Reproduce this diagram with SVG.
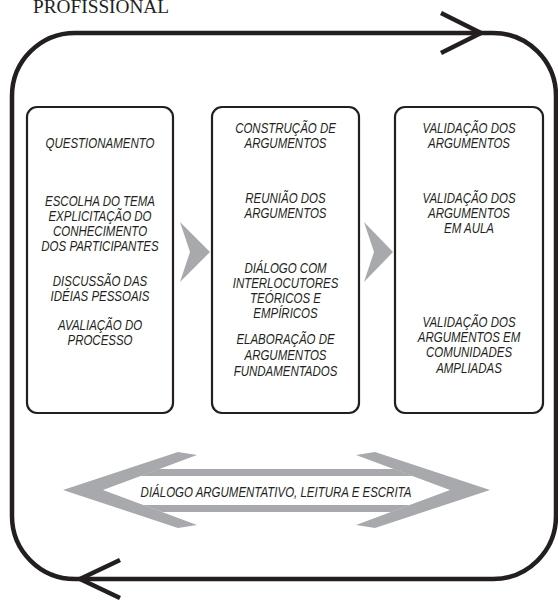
<svg xmlns="http://www.w3.org/2000/svg" width="558" height="600" viewBox="0 0 558 600">
<style>
.t{font-family:"Liberation Sans",Arial,sans-serif;font-style:italic;font-size:14px;fill:#231f20;text-anchor:middle}
.box{fill:#fff;stroke:#231f20;stroke-width:2.2}
.ln{fill:none;stroke:#231f20;stroke-width:4.5;stroke-linecap:butt;stroke-linejoin:miter}
.g{fill:#a7a9ac}
</style>
<rect width="558" height="600" fill="#fff"/>
<text x="33" y="13" font-family="'Liberation Serif','Times New Roman',serif" font-size="19.3" fill="#231f20">PROFISSIONAL</text>
<g id="connectors">
<rect class="ln" x="12" y="33" width="544" height="546" rx="63" ry="63"/>
<polyline class="ln" points="441,13 481,33 441,53"/>
<polyline class="ln" points="120,560 80,579 120,598"/>
<polygon class="g" points="180,222 210,252 180,282 190,252"/>
<polygon class="g" points="364,222 393,252 364,282 374,252"/>
</g>
<g id="questionamento">
<rect class="box" x="27" y="107" width="146" height="306" rx="10"/>
<g transform="translate(100,0) scale(0.82,1)">
<text class="t" x="0" y="148">QUESTIONAMENTO</text>
<text class="t" x="0" y="206">ESCOLHA DO TEMA</text>
<text class="t" x="0" y="221">EXPLICITAÇÃO DO</text>
<text class="t" x="0" y="236">CONHECIMENTO</text>
<text class="t" x="0" y="251">DOS PARTICIPANTES</text>
<text class="t" x="0" y="286">DISCUSSÃO DAS</text>
<text class="t" x="0" y="301">IDÉIAS PESSOAIS</text>
<text class="t" x="0" y="330">AVALIAÇÃO DO</text>
<text class="t" x="0" y="345">PROCESSO</text>
</g>
</g>
<g id="construcao">
<rect class="box" x="212" y="107" width="147" height="306" rx="10"/>
<g transform="translate(285.5,0) scale(0.82,1)">
<text class="t" x="0" y="133">CONSTRUÇÃO DE</text>
<text class="t" x="0" y="148">ARGUMENTOS</text>
<text class="t" x="0" y="203">REUNIÃO DOS</text>
<text class="t" x="0" y="218">ARGUMENTOS</text>
<text class="t" x="0" y="273">DIÁLOGO COM</text>
<text class="t" x="0" y="288">INTERLOCUTORES</text>
<text class="t" x="0" y="303">TEÓRICOS E</text>
<text class="t" x="0" y="318">EMPÍRICOS</text>
<text class="t" x="0" y="344">ELABORAÇÃO DE</text>
<text class="t" x="0" y="360">ARGUMENTOS</text>
<text class="t" x="0" y="376">FUNDAMENTADOS</text>
</g>
</g>
<g id="validacao">
<rect class="box" x="395" y="107" width="148" height="306" rx="10"/>
<g transform="translate(469,0) scale(0.82,1)">
<text class="t" x="0" y="133">VALIDAÇÃO DOS</text>
<text class="t" x="0" y="148">ARGUMENTOS</text>
<text class="t" x="0" y="203">VALIDAÇÃO DOS</text>
<text class="t" x="0" y="218">ARGUMENTOS</text>
<text class="t" x="0" y="233">EM AULA</text>
<text class="t" x="0" y="327">VALIDAÇÃO DOS</text>
<text class="t" x="0" y="342">ARGUMENTOS EM</text>
<text class="t" x="0" y="357">COMUNIDADES</text>
<text class="t" x="0" y="373">AMPLIADAS</text>
</g>
</g>
<g id="dialogo">
<polygon class="g" points="63,490 178,452 197,455 103,490 197,525 178,528"/>
<polygon class="g" points="490,490 375,452 356,455 450,490 356,525 375,528"/>
<polygon class="g" points="159,469 394,469 413,476 140,476"/>
<polygon class="g" points="143,505 410,505 391,512 162,512"/>
<g transform="translate(276,0) scale(0.82,1)">
<text class="t" x="0" y="497">DIÁLOGO ARGUMENTATIVO, LEITURA E ESCRITA</text>
</g>
</g>
</svg>
